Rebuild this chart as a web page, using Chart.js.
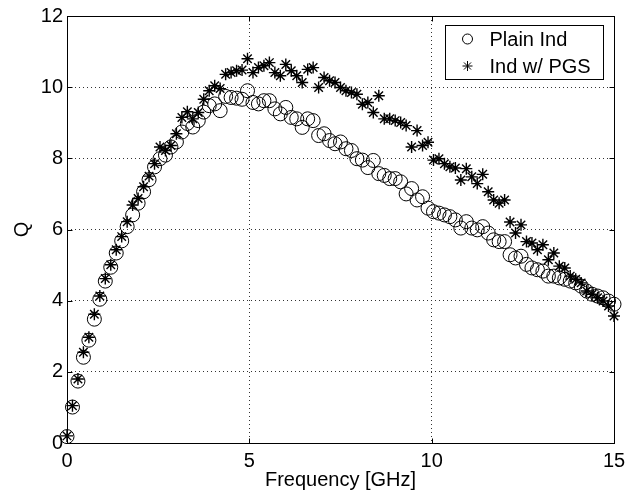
<!DOCTYPE html>
<html>
<head>
<meta charset="utf-8">
<title>Q vs frequency</title>
<script src="https://cdn.jsdelivr.net/npm/chart.js@4.4.1/dist/chart.umd.min.js"></script>
<style>
  html, body { margin: 0; padding: 0; background: #fff; }
  #wrap { width: 638px; height: 495px; position: relative; }
</style>
</head>
<body>
<div id="wrap"><canvas id="q-chart"></canvas></div>
<script>
/* Quality factor of a plain spiral inductor vs. one with a patterned
   ground shield, MATLAB-style scatter (circles vs. asterisks). */

// ---- Data --------------------------------------------------
const FREQ_GHZ = [
  0.00, 0.15, 0.30, 0.45, 0.60, 0.75, 0.90, 1.05, 1.20, 1.35,
  1.50, 1.65, 1.80, 1.95, 2.10, 2.25, 2.40, 2.55, 2.70, 2.85,
  3.00, 3.15, 3.30, 3.45, 3.60, 3.75, 3.90, 4.05, 4.20, 4.35,
  4.50, 4.65, 4.80, 4.95, 5.10, 5.25, 5.40, 5.55, 5.70, 5.85,
  6.00, 6.15, 6.30, 6.45, 6.60, 6.75, 6.90, 7.05, 7.20, 7.35,
  7.50, 7.65, 7.80, 7.95, 8.10, 8.25, 8.40, 8.55, 8.70, 8.85,
  9.00, 9.15, 9.30, 9.45, 9.60, 9.75, 9.90, 10.05, 10.20, 10.35,
  10.50, 10.65, 10.80, 10.95, 11.10, 11.25, 11.40, 11.55, 11.70, 11.85,
  12.00, 12.15, 12.30, 12.45, 12.60, 12.75, 12.90, 13.05, 13.20, 13.35,
  13.50, 13.65, 13.80, 13.95, 14.10, 14.25, 14.40, 14.55, 14.70, 14.85,
  15.00
];

const Q_PLAIN = [
  0.18, 1.01, 1.74, 2.41, 2.89, 3.48, 4.04, 4.55, 4.94, 5.34,
  5.68, 6.08, 6.41, 6.74, 7.06, 7.40, 7.76, 7.99, 8.09, 8.32,
  8.46, 8.74, 8.98, 8.88, 9.06, 9.30, 9.48, 9.53, 9.34, 9.74,
  9.71, 9.69, 9.66, 9.90, 9.57, 9.53, 9.62, 9.62, 9.39, 9.25,
  9.43, 9.15, 9.11, 8.87, 9.11, 9.06, 8.64, 8.69, 8.50, 8.41,
  8.46, 8.27, 8.22, 7.99, 7.95, 7.74, 7.94, 7.57, 7.52, 7.43,
  7.43, 7.34, 7.00, 7.15, 6.83, 6.92, 6.60, 6.50, 6.46, 6.41,
  6.36, 6.27, 6.04, 6.22, 6.04, 5.99, 6.08, 5.90, 5.71, 5.66,
  5.66, 5.29, 5.20, 5.25, 5.02, 4.92, 4.87, 4.83, 4.69, 4.69,
  4.64, 4.60, 4.55, 4.50, 4.41, 4.27, 4.18, 4.13, 4.08, 3.99,
  3.90
];

const Q_PGS = [
  0.20, 1.05, 1.80, 2.55, 2.97, 3.62, 4.13, 4.62, 5.01, 5.43,
  5.80, 6.22, 6.69, 6.87, 7.20, 7.50, 7.85, 8.32, 8.22, 8.36,
  8.69, 9.15, 9.31, 9.11, 9.29, 9.66, 9.90, 10.04, 9.96, 10.36,
  10.41, 10.46, 10.48, 10.80, 10.41, 10.55, 10.60, 10.69, 10.41, 10.32,
  10.64, 10.46, 10.32, 10.13, 10.50, 10.55, 9.99, 10.27, 10.18, 10.13,
  9.99, 9.90, 9.85, 9.80, 9.52, 9.57, 9.29, 9.76, 9.11, 9.11,
  9.06, 9.01, 8.92, 8.32, 8.78, 8.36, 8.45, 7.95, 7.99, 7.85,
  7.76, 7.73, 7.39, 7.71, 7.48, 7.29, 7.55, 7.06, 6.83, 6.74,
  6.83, 6.21, 5.90, 6.13, 5.66, 5.62, 5.43, 5.57, 5.15, 5.34,
  4.97, 4.92, 4.69, 4.60, 4.50, 4.27, 4.18, 4.08, 3.99, 3.85,
  3.57
];

const SERIES_LABELS = ['Plain Ind', 'Ind w/ PGS'];
const X_TICKS = [0, 5, 10, 15];
const Y_TICKS = [0, 2, 4, 6, 8, 10, 12];
const X_TITLE = 'Frequency [GHz]';
const Y_TITLE = 'Q';

// ---- Look --------------------------------------------------
const FONT = "'Liberation Sans', Arial, Helvetica, sans-serif";
const FONT_SIZE = 20;
const INK = '#000000';
const GRID_INK = '#333333';

function toPoints(xs, ys) {
  return xs.map((x, i) => ({ x: x, y: ys[i] }));
}

// Box, inward tick marks and boxed legend, the MATLAB way.
const matlabFrame = {
  id: 'matlabFrame',
  afterDatasetsDraw(chart) {
    const ctx = chart.ctx;
    const a = chart.chartArea;
    const xs = chart.scales.x;
    const ys = chart.scales.y;
    const L = Math.round(a.left) + 0.5;
    const R = Math.round(a.right) + 0.5;
    const T = Math.round(a.top) + 0.5;
    const B = Math.round(a.bottom) + 0.5;
    const TICK = 5;

    ctx.save();
    ctx.strokeStyle = INK;
    ctx.lineWidth = 1;
    ctx.setLineDash([]);
    ctx.strokeRect(L, T, R - L, B - T);

    ctx.beginPath();
    X_TICKS.forEach(v => {
      const px = Math.round(xs.getPixelForValue(v)) + 0.5;
      ctx.moveTo(px, B); ctx.lineTo(px, B - TICK);
      ctx.moveTo(px, T); ctx.lineTo(px, T + TICK);
    });
    Y_TICKS.forEach(v => {
      const py = Math.round(ys.getPixelForValue(v)) + 0.5;
      ctx.moveTo(L, py); ctx.lineTo(L + TICK, py);
      ctx.moveTo(R, py); ctx.lineTo(R - TICK, py);
    });
    ctx.stroke();

    // legend box, tucked into the upper-right corner
    const boxW = 158, boxH = 54;
    const bx = Math.round(a.right - 11 - boxW) + 0.5;
    const by = Math.round(a.top + 9) + 0.5;
    ctx.fillStyle = '#FFFFFF';
    ctx.fillRect(bx, by, boxW, boxH);
    ctx.strokeRect(bx, by, boxW, boxH);

    ctx.font = FONT_SIZE + 'px ' + FONT;
    ctx.textBaseline = 'middle';
    ctx.textAlign = 'left';
    chart.data.datasets.forEach((ds, i) => {
      const rowY = by + 13.5 + i * 27;
      Chart.helpers.drawPoint(ctx, {
        pointStyle: ds.pointStyle,
        radius: 5,
        borderWidth: ds.borderWidth
      }, bx + 22, rowY);
      ctx.fillStyle = INK;
      ctx.fillText(ds.label, bx + 44, rowY + 1);
    });
    ctx.restore();
  }
};

// ---- Chart -------------------------------------------------
Chart.defaults.font.family = FONT;
Chart.defaults.color = INK;

const canvas = document.getElementById('q-chart');
new Chart(canvas.getContext('2d'), {
  type: 'scatter',
  data: {
    datasets: [
      {
        label: SERIES_LABELS[0],
        data: toPoints(FREQ_GHZ, Q_PLAIN),
        pointStyle: 'circle',
        pointRadius: 7,
        pointHoverRadius: 7,
        backgroundColor: 'rgba(0,0,0,0)',
        borderColor: INK,
        borderWidth: 1,
        clip: false
      },
      {
        label: SERIES_LABELS[1],
        data: toPoints(FREQ_GHZ, Q_PGS),
        pointStyle: 'star',
        pointRadius: 6,
        pointHoverRadius: 6,
        backgroundColor: INK,
        borderColor: INK,
        borderWidth: 1.4,
        clip: false
      }
    ]
  },
  options: {
    responsive: true,
    maintainAspectRatio: false,
    animation: false,
    events: [],
    layout: { padding: { top: 13, right: 24, bottom: 0, left: 0 } },
    plugins: {
      legend: { display: false },
      tooltip: { enabled: false }
    },
    scales: {
      x: {
        type: 'linear',
        min: 0,
        max: 15,
        afterBuildTicks: s => { s.ticks = X_TICKS.map(v => ({ value: v })); },
        afterFit: s => { s.height = 52; },
        grid: { color: GRID_INK, lineWidth: 1, drawTicks: false },
        border: { display: false, dash: [1, 3] },
        ticks: { color: INK, font: { size: FONT_SIZE }, padding: 6, maxRotation: 0 },
        title: {
          display: true,
          text: X_TITLE,
          color: INK,
          font: { size: FONT_SIZE },
          padding: { top: 0, bottom: 3 }
        }
      },
      y: {
        type: 'linear',
        min: 0,
        max: 12,
        afterBuildTicks: s => { s.ticks = Y_TICKS.map(v => ({ value: v })); },
        afterFit: s => { s.width = 67; },
        grid: { color: GRID_INK, lineWidth: 1, drawTicks: false },
        border: { display: false, dash: [1, 3] },
        ticks: { color: INK, font: { size: FONT_SIZE }, padding: 4 },
        title: {
          display: true,
          text: Y_TITLE,
          color: INK,
          font: { size: FONT_SIZE },
          padding: { top: 10, bottom: 0 }
        }
      }
    }
  },
  plugins: [matlabFrame]
});
</script>
</body>
</html>
